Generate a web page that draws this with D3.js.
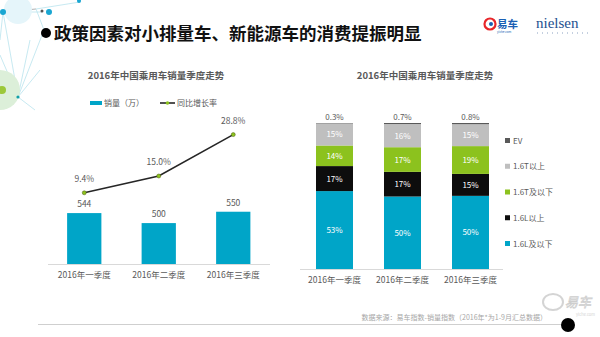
<!DOCTYPE html>
<html>
<head>
<meta charset="utf-8">
<script src="https://cdn.jsdelivr.net/npm/d3@7/dist/d3.min.js"></script>
<style>
  html, body { margin: 0; padding: 0; background: #fff; }
  svg { display: block; font-family: "Noto Sans CJK SC", "Noto Sans", sans-serif; }
</style>
</head>
<body>
<svg id="chart" width="600" height="337"></svg>
<script>
/* ---- data ---- */
const quarters = ['2016年一季度', '2016年二季度', '2016年三季度'];
const sales = [544, 500, 550];          // 销量（万）
const growth = [9.4, 15.0, 28.8];       // 同比增长率 %
const segKeys = ['1.6L及以下', '1.6L以上', '1.6T及以下', '1.6T以上', 'EV'];
const segShares = [                      // 每季度各排量占比 %
  [53, 17, 14, 15, 0.3],
  [50, 17, 17, 16, 0.7],
  [50, 15, 19, 15, 0.8]
];
const segColors = ['#00a5c8', '#0d0d0d', '#8cc21e', '#bfbfbf', '#595959'];

const svg = d3.select('#chart');
const grayText = '#595959';

/* ---- 左上角装饰网络 ---- */
const deco = svg.append('g');
const decoLines = [[3,12,42,12],[3,12,36,9],[36,9,44,30],[36,9,80,2],[3,12,0,40],[44,30,18,97],[3,12,18,97],[0,55,18,97],[30,40,18,97],[18,97,40,70],[18,97,35,110]];
deco.selectAll('line').data(decoLines).join('line')
  .attr('x1', d => d[0]).attr('y1', d => d[1]).attr('x2', d => d[2]).attr('y2', d => d[3])
  .attr('stroke', (d, i) => i === 1 ? '#9a9a9a' : '#b9e3ee').attr('stroke-width', 0.8);
deco.append('circle').attr('cx', 0).attr('cy', 90).attr('r', 20).attr('fill', '#dcefd9');
deco.append('circle').attr('cx', 18).attr('cy', 10).attr('r', 14).attr('fill', '#e5f5fa');
deco.append('circle').attr('cx', 2).attr('cy', 90).attr('r', 4).attr('fill', '#9cc83a');
deco.append('circle').attr('cx', 3).attr('cy', 12).attr('r', 3).attr('fill', '#1aa6d2');
deco.append('circle').attr('cx', 49).attr('cy', 12).attr('r', 3).attr('fill', '#1aa6d2');
deco.append('circle').attr('cx', 42).attr('cy', 11).attr('r', 1.5).attr('fill', '#555');
deco.append('circle').attr('cx', 79).attr('cy', 1).attr('r', 2).attr('fill', '#1aa6d2');
deco.append('circle').attr('cx', 18).attr('cy', 97).attr('r', 1.6).attr('fill', '#10a0a8');

/* ---- 标题 ---- */
svg.append('circle').attr('cx', 46).attr('cy', 33).attr('r', 5).attr('fill', '#000');
svg.append('text').attr('x', 54).attr('y', 40)
  .attr('font-size', 17.5).attr('font-weight', 'bold').attr('fill', '#111')
  .text('政策因素对小排量车、新能源车的消费提振明显');

/* logos */
svg.append('circle').attr('cx', 490).attr('cy', 24).attr('r', 5.5)
  .attr('fill', 'none').attr('stroke', '#e8262a').attr('stroke-width', 2.2);
svg.append('circle').attr('cx', 491).attr('cy', 24).attr('r', 2).attr('fill', '#1a5fb4');
svg.append('text').attr('x', 497).attr('y', 28).attr('font-size', 10.5).attr('font-weight', 'bold')
  .attr('fill', '#1a5fb4').text('易车');
svg.append('text').attr('x', 497).attr('y', 33).attr('font-size', 3).attr('fill', '#1a5fb4').text('yiche.com');
svg.append('text').attr('x', 536).attr('y', 28).attr('font-size', 15)
  .attr('font-family', '"Liberation Serif", "DejaVu Serif", serif').attr('fill', '#24508f').text('nielsen');
svg.append('line').attr('x1', 537).attr('x2', 589).attr('y1', 33).attr('y2', 33)
  .attr('stroke', '#8aa0c0').attr('stroke-width', 1).attr('stroke-dasharray', '1,4');

/* ================= 左图：销量 + 增长率 ================= */
const left = svg.append('g');
left.append('text').attr('x', 156).attr('y', 79).attr('text-anchor', 'middle')
  .attr('font-size', 9.5).attr('font-weight', 'bold').attr('fill', grayText)
  .text('2016年中国乘用车销量季度走势');

const xL = d3.scaleBand().domain(quarters).range([47, 270.5]).paddingInner(0.54).paddingOuter(0.27);
const yBar = d3.scaleLinear().domain([320, 650]).range([264, 189]);
const yRate = d3.scaleLinear().domain([0, 40]).range([221, 101]);

left.selectAll('rect.bar').data(sales).join('rect').attr('class', 'bar')
  .attr('x', (d, i) => xL(quarters[i])).attr('width', xL.bandwidth())
  .attr('y', d => yBar(d)).attr('height', d => yBar(320) - yBar(d))
  .attr('fill', '#00a5c8');
left.selectAll('text.bv').data(sales).join('text').attr('class', 'bv')
  .attr('x', (d, i) => xL(quarters[i]) + xL.bandwidth() / 2).attr('y', d => yBar(d) - 6)
  .attr('text-anchor', 'middle').attr('font-size', 8.5).attr('fill', grayText).text(d => d);

left.append('line').attr('x1', 48).attr('x2', 270).attr('y1', 264.5).attr('y2', 264.5)
  .attr('stroke', '#d9d9d9').attr('stroke-width', 1);
const axL = left.append('g').attr('transform', 'translate(0,264.5)')
  .call(d3.axisBottom(xL).tickSize(0).tickPadding(7));
axL.select('.domain').remove();
axL.selectAll('text').attr('font-size', 8.5).attr('fill', grayText)
  .attr('font-family', '"Noto Sans CJK SC", sans-serif');

const lineGen = d3.line().x((d, i) => xL(quarters[i]) + xL.bandwidth() / 2).y(d => yRate(d));
left.append('path').datum(growth).attr('d', lineGen)
  .attr('fill', 'none').attr('stroke', '#262626').attr('stroke-width', 1.6);
left.selectAll('circle.pt').data(growth).join('circle').attr('class', 'pt')
  .attr('cx', (d, i) => xL(quarters[i]) + xL.bandwidth() / 2).attr('cy', d => yRate(d))
  .attr('r', 2).attr('fill', '#8cc21e').attr('stroke', '#4a5a10').attr('stroke-width', 0.5);
left.selectAll('text.rv').data(growth).join('text').attr('class', 'rv')
  .attr('x', (d, i) => xL(quarters[i]) + xL.bandwidth() / 2).attr('y', d => yRate(d) - 11)
  .attr('text-anchor', 'middle').attr('font-size', 8.5).attr('fill', grayText)
  .text(d => d.toFixed(1) + '%');

/* legend */
left.append('rect').attr('x', 90).attr('y', 101).attr('width', 12).attr('height', 4).attr('fill', '#00a5c8');
left.append('text').attr('x', 104).attr('y', 106).attr('font-size', 8).attr('fill', grayText).text('销量（万）');
left.append('line').attr('x1', 160).attr('x2', 175).attr('y1', 103).attr('y2', 103)
  .attr('stroke', '#262626').attr('stroke-width', 1.6);
left.append('circle').attr('cx', 167.5).attr('cy', 103).attr('r', 1.8).attr('fill', '#8cc21e');
left.append('text').attr('x', 177).attr('y', 106).attr('font-size', 8).attr('fill', grayText).text('同比增长率');

/* ================= 右图：排量结构堆叠 ================= */
const right = svg.append('g');
right.append('text').attr('x', 425).attr('y', 79).attr('text-anchor', 'middle')
  .attr('font-size', 9.5).attr('font-weight', 'bold').attr('fill', grayText)
  .text('2016年中国乘用车销量季度走势');

const rows = quarters.map((q, i) => {
  const r = { q };
  segKeys.forEach((k, j) => { r[k] = segShares[i][j]; });
  return r;
});
const stacked = d3.stack().keys(segKeys).offset(d3.stackOffsetExpand)(rows);

const xR = d3.scaleBand().domain(quarters).range([300.5, 504.5]).paddingInner(0.456).paddingOuter(0.228);
const yR = d3.scaleLinear().domain([0, 1]).range([269, 123]);

const layer = right.selectAll('g.layer').data(stacked).join('g').attr('class', 'layer')
  .attr('fill', (d, i) => segColors[i]);
layer.selectAll('rect').data(d => d).join('rect')
  .attr('x', d => xR(d.data.q)).attr('width', xR.bandwidth())
  .attr('y', d => yR(d[1])).attr('height', d => yR(d[0]) - yR(d[1]));

// 段内百分比标签（EV 标在柱顶上方）
stacked.forEach((s, i) => {
  const isEV = segKeys[i] === 'EV';
  right.selectAll('text.seg' + i).data(s).join('text').attr('class', 'seg' + i)
    .attr('x', d => xR(d.data.q) + xR.bandwidth() / 2)
    .attr('y', d => isEV ? yR(d[1]) - 3 : (yR(d[0]) + yR(d[1])) / 2 + 3)
    .attr('text-anchor', 'middle').attr('font-size', 8)
    .attr('fill', isEV ? grayText : '#fff')
    .text(d => d.data[segKeys[i]] + '%');
});

right.append('line').attr('x1', 300).attr('x2', 503).attr('y1', 269.5).attr('y2', 269.5)
  .attr('stroke', '#d9d9d9').attr('stroke-width', 1);
const axR = right.append('g').attr('transform', 'translate(0,269.5)')
  .call(d3.axisBottom(xR).tickSize(0).tickPadding(7));
axR.select('.domain').remove();
axR.selectAll('text').attr('font-size', 8.5).attr('fill', grayText)
  .attr('font-family', '"Noto Sans CJK SC", sans-serif');

/* legend (top-to-bottom: EV ... 1.6L及以下) */
const legKeys = segKeys.slice().reverse();
const legY = d3.scalePoint().domain(legKeys).range([141, 244]);
const leg = right.selectAll('g.leg').data(legKeys).join('g').attr('class', 'leg')
  .attr('transform', d => `translate(505,${legY(d)})`);
leg.append('rect').attr('x', 0).attr('y', -3).attr('width', 5).attr('height', 5)
  .attr('fill', d => segColors[segKeys.indexOf(d)]);
leg.append('text').attr('x', 8).attr('y', 2.5).attr('font-size', 8).attr('fill', grayText).text(d => d);

/* ---- 底部来源与水印 ---- */
svg.append('text').attr('x', 547).attr('y', 320).attr('text-anchor', 'end')
  .attr('font-size', 7).attr('fill', '#a6a6a6')
  .text('数据来源：易车指数-销量指数（2016年*为1-9月汇总数据）');
svg.append('line').attr('x1', 38).attr('x2', 562).attr('y1', 324.5).attr('y2', 324.5)
  .attr('stroke', '#cfcfcf').attr('stroke-width', 1.2);
svg.append('circle').attr('cx', 568).attr('cy', 325).attr('r', 7).attr('fill', '#000');
const wm = svg.append('g').attr('opacity', 0.9);
wm.append('ellipse').attr('cx', 553).attr('cy', 302).attr('rx', 10).attr('ry', 8)
  .attr('fill', 'none').attr('stroke', '#d0d0d0').attr('stroke-width', 2);
wm.append('text').attr('x', 565).attr('y', 307).attr('font-size', 13).attr('font-style', 'italic')
  .attr('fill', '#fff').attr('stroke', '#c8c8c8').attr('stroke-width', 0.7).text('易车');
wm.append('text').attr('x', 576).attr('y', 316).attr('font-size', 4).attr('fill', '#d0d0d0').text('yiche.com');
</script>
</body>
</html>
